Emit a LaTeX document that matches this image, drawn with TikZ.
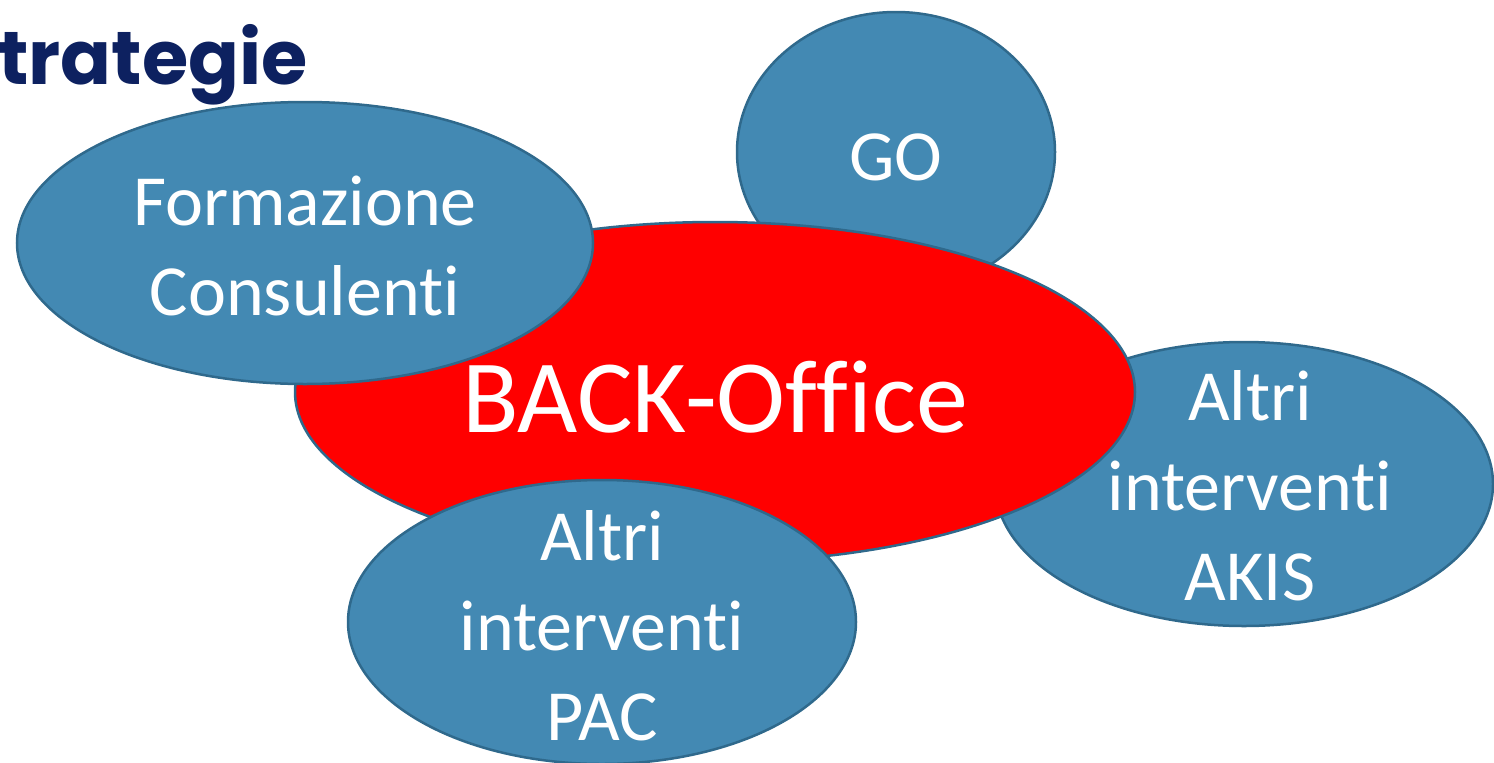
\documentclass[tikz,border=0pt]{standalone}
\usepackage{fontspec}
\setmainfont{Carlito}[Ligatures={NoCommon,NoRequired,NoContextual}]
\newfontfamily\titlefont{Poppins}
\usetikzlibrary{shapes.geometric}
\definecolor{bubble}{RGB}{67,137,179}
\definecolor{bubbleline}{RGB}{47,105,140}
\definecolor{backred}{RGB}{255,0,0}
\definecolor{navy}{RGB}{13,33,96}
\tikzset{
  bub/.style={ellipse, draw=bubbleline, line width=2.5pt, fill=bubble, inner sep=0pt, outer sep=0pt},
  redbub/.style={bub, fill=backred},
  lbl/.style={anchor=base, text=white, inner sep=0pt, font=\fontsize{72}{90}\selectfont},
  biglbl/.style={anchor=base, text=white, inner sep=0pt, font=\fontsize{104}{120}\selectfont}
}
\begin{document}
\begin{tikzpicture}[x=1pt,y=-1pt]
\useasboundingbox (0,0) rectangle (1494,763);
\clip (0,0) rectangle (1494,763);
\node[anchor=base west, inner sep=0pt, text=navy, font=\titlefont\bfseries\fontsize{75}{90}\selectfont] (title) at (-2,84) {trategie};
\node[bub, minimum width=318pt, minimum height=280pt] (go) at (896,152) {};
\node[bub, minimum width=498pt, minimum height=284pt] (akis) at (1244,484) {};
\node[redbub, minimum width=840pt, minimum height=340pt] (back) at (715,392) {};
\node[bub, minimum width=576pt, minimum height=282pt] (form) at (305,243) {};
\node[bub, minimum width=508pt, minimum height=284pt] (pac) at (602,622) {};
\node[lbl] (golbl) at (896,180) {GO};
\node[biglbl] (backlbl) at (715,432) {BACK-Office};
\node[lbl] (form1) at (305,225) {Formazione};
\node[lbl] (form2) at (305,315) {Consulenti};
\node[lbl] (akis1) at (1250,420) {Altri};
\node[lbl] (akis2) at (1250,510) {interventi};
\node[lbl] (akis3) at (1250,600) {AKIS};
\node[lbl] (pac1) at (602,560) {Altri};
\node[lbl] (pac2) at (602,650) {interventi};
\node[lbl] (pac3) at (602,740) {PAC};
\end{tikzpicture}
\end{document}
